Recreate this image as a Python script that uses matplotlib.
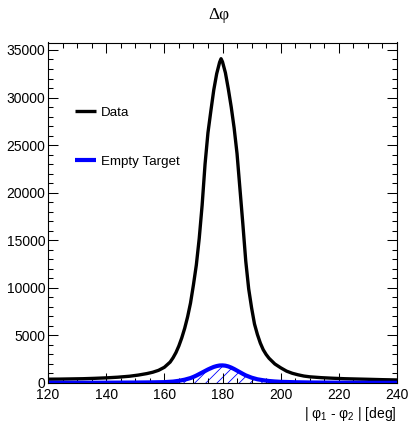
import numpy as np
import matplotlib
matplotlib.use("Agg")
import matplotlib.pyplot as plt
from matplotlib.ticker import MultipleLocator

plt.rcParams['font.family'] = ['Liberation Sans', 'DejaVu Sans']
plt.rcParams['mathtext.fontset'] = 'custom'
plt.rcParams['mathtext.rm'] = 'Liberation Sans'
plt.rcParams['mathtext.it'] = 'Liberation Sans'
plt.rcParams['hatch.linewidth'] = 0.6

# delta phi (deg) vs counts
data_x = [120, 124, 128, 132, 136, 140, 144, 148, 151, 154, 156, 158, 160, 162, 163,
          164, 165, 166, 167, 168, 169, 170, 171, 172, 173, 174, 175, 176, 177, 178,
          179, 179.5, 180, 181, 182, 183, 184, 185, 186, 187, 188, 189, 190, 191, 192,
          193, 194, 195, 196, 198, 200, 202, 204, 206, 208, 210, 214, 218, 222, 226,
          230, 235, 240]
data_y = [400, 410, 430, 450, 490, 540, 610, 710, 830, 990, 1130, 1330, 1650, 2200, 2650,
          3200, 3900, 4750, 5750, 6950, 8400, 10300, 12400, 15200, 18700, 23000, 26300, 28600, 30800, 32500,
          33700, 34080, 33750, 32600, 30900, 29000, 26800, 24100, 20400, 16700, 12800, 9900, 7900, 6200, 5100,
          4200, 3500, 3000, 2600, 2000, 1600, 1250, 1020, 860, 730, 650, 560, 500, 450, 420,
          390, 350, 320]

empty_x = [120, 130, 140, 150, 155, 160, 163, 165, 167, 169, 170, 171, 172, 173, 174,
           175, 176, 177, 178, 179, 180, 181, 182, 183, 184, 185, 186, 187, 188, 189,
           190, 192, 194, 196, 198, 200, 205, 210, 220, 230, 240]
empty_y = [20, 25, 35, 50, 65, 90, 150, 230, 350, 520, 640, 780, 940, 1100, 1260,
           1420, 1560, 1690, 1780, 1840, 1850, 1820, 1740, 1620, 1470, 1300, 1130, 960, 800, 680,
           560, 390, 290, 210, 160, 125, 80, 55, 35, 25, 20]

fig = plt.figure(figsize=(4.08, 4.22), dpi=100)
ax = fig.add_axes([48/408, 1-383/422, 349/408, 340.5/422])

ax.fill_between(empty_x, 0, empty_y, facecolor='none', edgecolor='blue',
                hatch='///', linewidth=0)
ax.plot(data_x, data_y, color='black', lw=2.4, label='Data', solid_capstyle='butt')
ax.plot(empty_x, empty_y, color='blue', lw=3.0, label='Empty Target', solid_capstyle='butt')

ax.set_xlim(120, 240)
ax.set_ylim(0, 35784)
ax.xaxis.set_major_locator(MultipleLocator(20))
ax.xaxis.set_minor_locator(MultipleLocator(5))
ax.yaxis.set_major_locator(MultipleLocator(5000))
ax.yaxis.set_minor_locator(MultipleLocator(1000))
ax.tick_params(which='both', direction='in', top=True, right=True, labelsize=10, width=0.75)
ax.tick_params(which='major', length=7.2)
ax.tick_params(which='minor', length=3.6)
ax.tick_params(axis='x', pad=3.5)
ax.tick_params(axis='y', pad=2)
for s in ax.spines.values():
    s.set_linewidth(0.8)

ax.set_xlabel('| φ$_1$ - φ$_2$ | [deg]', fontsize=10, loc='right', labelpad=2)

ax.legend(loc='upper left', bbox_to_anchor=(0.077, 0.813), frameon=False, fontsize=9.6,
          borderpad=0, borderaxespad=0, handlelength=1.6, handletextpad=0.35,
          labelspacing=2.75)

fig.text(219/408, 1-15/422, 'Δφ', family='Liberation Serif', fontsize=12.5,
         ha='center', va='center')

fig.savefig('out.png', dpi=100)
